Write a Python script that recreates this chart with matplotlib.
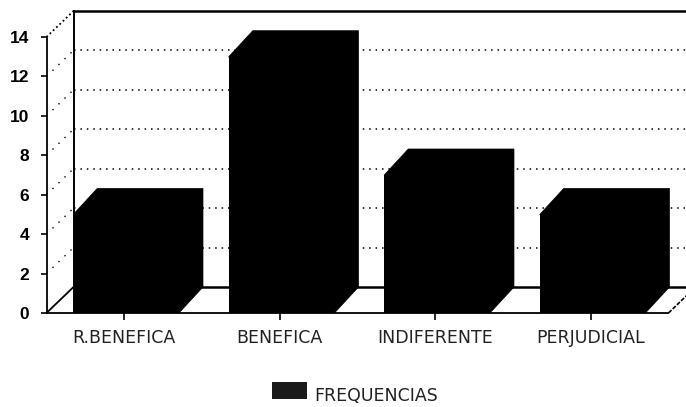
import matplotlib
matplotlib.use("Agg")
import matplotlib.pyplot as plt
from matplotlib.patches import Polygon

categories = ["R.BENEFICA", "BENEFICA", "INDIFERENTE", "PERJUDICIAL"]
frecuencias = [5, 13, 7, 5]
y_ticks = [0, 2, 4, 6, 8, 10, 12, 14]
series_name = "FREQUENCIAS"

W, H = 686, 407
fig = plt.figure(figsize=(W / 100, H / 100), dpi=100, facecolor="white")
L, R, T, B = 46.5, 668.5, 37, 313
ax = fig.add_axes([L / W, 1 - B / H, (R - L) / W, (B - T) / H])
ax.set_xlim(0, 4)
ax.set_ylim(0, 14)
ax.patch.set_visible(False)

dx = 27 / ((R - L) / 4)
bar_dx = 24 / ((R - L) / 4)
dy = 26 / ((B - T) / 14)
width = 0.68
shift = 0.012
xright = 4 + dx

# back wall, side wall, floor
for v in y_ticks[1:-1]:
    ax.plot([dx, xright], [v + dy, v + dy], color="black", lw=1.1, ls=(0, (1, 3.2)), clip_on=False, zorder=1)
    ax.plot([0, dx], [v, v + dy], color="black", lw=1.0, ls=(0, (1, 5)), clip_on=False, zorder=1)
ax.plot([dx, xright], [14 + dy, 14 + dy], color="black", lw=1.8, clip_on=False, zorder=1)
ax.plot([dx, xright], [dy, dy], color="black", lw=1.8, clip_on=False, zorder=1)
ax.plot([dx, dx], [dy, 14 + dy], color="black", lw=1.4, clip_on=False, zorder=1)
ax.plot([0, dx], [14, 14 + dy], color="black", lw=1.3, ls=(0, (1, 1.5)), clip_on=False, zorder=1)
ax.plot([0, dx], [0, dy], color="black", lw=1.3, clip_on=False, zorder=1)
ax.plot([4, xright], [0, dy], color="black", lw=1.2, ls=(0, (2.5, 1)), clip_on=False, zorder=1)

# bars with their depth
pos = [i + 0.5 + shift for i in range(len(categories))]
ax.bar(pos, frecuencias, width=width, color="black", zorder=3, label=series_name)
for p, v in zip(pos, frecuencias):
    x0, x1 = p - width / 2, p + width / 2
    ax.add_patch(Polygon(
        [(x0, v), (x0 + bar_dx, v + dy), (x1 + bar_dx, v + dy), (x1 + bar_dx, dy), (x1, 0)],
        closed=True, facecolor="black", edgecolor="black", lw=0.5, zorder=3, clip_on=False))

for s in ("top", "right"):
    ax.spines[s].set_visible(False)
for s in ("left", "bottom"):
    ax.spines[s].set_linewidth(1.3)
    ax.spines[s].set_zorder(4)

ax.set_yticks(y_ticks)
ax.set_xticks([i + 0.5 for i in range(len(categories))])
ax.set_xticklabels(categories, family="DejaVu Sans", fontsize=12.5, color="#222222")
ax.tick_params(axis="y", length=4.5, width=1.2, pad=8, labelsize=12.5)
ax.tick_params(axis="x", length=5, width=1.2, pad=6.5)
for lab in ax.get_yticklabels():
    lab.set_family("Liberation Sans")
    lab.set_fontweight("bold")

leg = ax.legend(loc="center", bbox_to_anchor=(355 / W, 1 - 391 / H),
                bbox_transform=fig.transFigure, frameon=False, ncol=1,
                prop={"family": "DejaVu Sans", "size": 12.5},
                handlelength=2.0, handleheight=1.2, handletextpad=0.4,
                borderpad=0, borderaxespad=0)
for h in leg.get_patches():
    h.set_facecolor("#1a1a1a")
    h.set_height(12.5)
for t in leg.get_texts():
    t.set_color("#222222")
    t.set_y(-5)

fig.savefig("out.png", dpi=100)
